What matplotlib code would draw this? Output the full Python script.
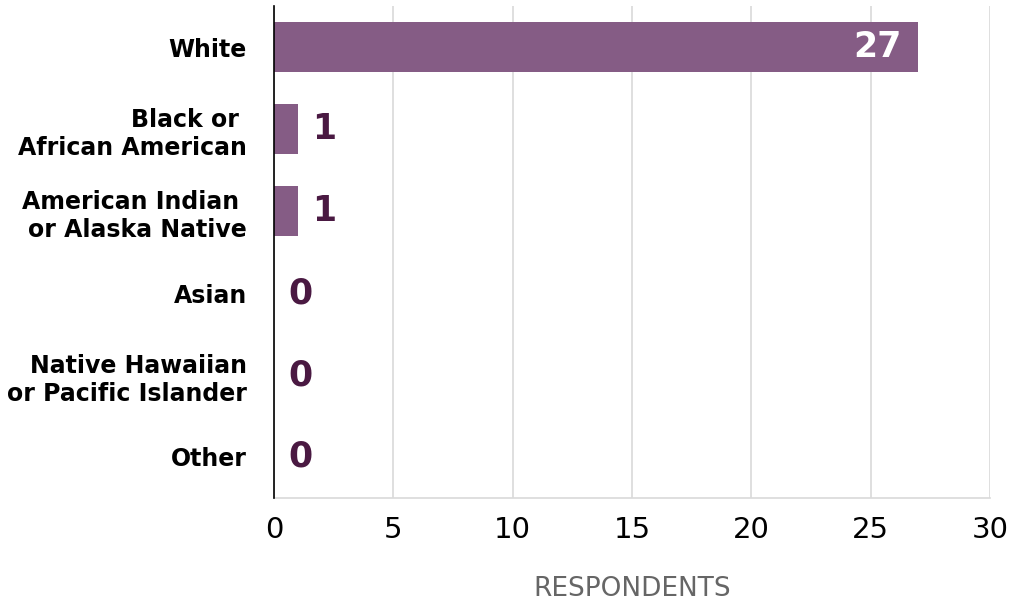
import matplotlib
matplotlib.use("Agg")
import matplotlib.pyplot as plt

categories = ["White", "Black or \nAfrican American", "American Indian \nor Alaska Native",
              "Asian", "Native Hawaiian\nor Pacific Islander", "Other"]
values = [27, 1, 1, 0, 0, 0]
xticks = [0, 5, 10, 15, 20, 25, 30]

plt.rcParams['font.family'] = ['DejaVu Sans']

fig = plt.figure(figsize=(10.16, 6.07), dpi=100)
ax = fig.add_axes([0.2697, 0.1796, 0.7047, 0.8104])

bar_color = "#855C85"
label_color = "#4A1942"
y = list(range(len(categories)))
ax.barh(y, values, height=0.61, color=bar_color, zorder=3)
ax.set_ylim(len(categories) - 0.5, -0.5)
ax.set_xlim(0, 30)
ax.set_xticks(xticks)
ax.set_xticklabels([str(t) for t in xticks], fontsize=21)
ax.set_yticks(y)
ax.set_yticklabels(categories, fontsize=17, fontweight='bold', linespacing=1.22)
ax.tick_params(axis='x', length=0, pad=13)
ax.tick_params(axis='y', length=0, pad=19.5)
ax.grid(axis='x', color='#d9d9d9', linewidth=1.2, zorder=0)
for s in ['top', 'right']:
    ax.spines[s].set_visible(False)
ax.spines['bottom'].set_color('#d9d9d9')
ax.spines['bottom'].set_linewidth(1.2)
ax.spines['left'].set_color('black')
ax.spines['left'].set_linewidth(1.2)
ax.spines['left'].set_zorder(4)

for yi, v in zip(y, values):
    if v >= 5:
        ax.text(v - 0.7, yi, str(v), ha='right', va='center', color='white',
                fontsize=25, fontweight='bold', zorder=5)
    else:
        ax.text(v + 0.6, yi, str(v), ha='left', va='center', color=label_color,
                fontsize=25, fontweight='bold', zorder=5)

ax.set_xlabel("RESPONDENTS", fontsize=19, color='#666666', labelpad=23)

fig.savefig("out.png", dpi=100)
